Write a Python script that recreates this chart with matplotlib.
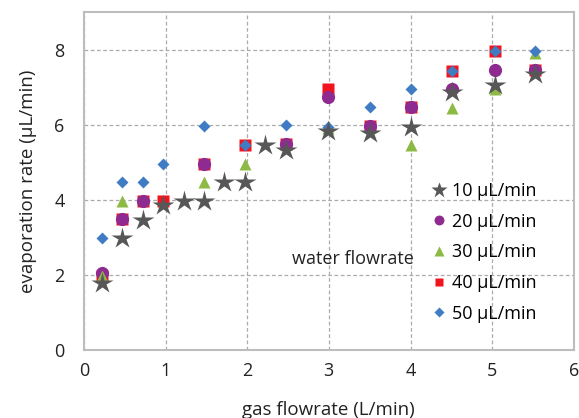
import matplotlib
matplotlib.use("Agg")
import matplotlib.pyplot as plt

plt.rcParams['font.family'] = ['Open Sans', 'DejaVu Sans']

# water flowrate 10 uL/min
x10 = [0.22, 0.47, 0.72, 0.97, 1.22, 1.47, 1.72, 1.97, 2.22, 2.47, 2.99, 3.5, 4.0, 4.51, 5.03, 5.53]
y10 = [1.78, 2.97, 3.46, 3.87, 3.97, 3.98, 4.47, 4.47, 5.45, 5.33, 5.84, 5.78, 5.94, 6.88, 7.06, 7.35]
# 20 uL/min
x20 = [0.22, 0.47, 0.72, 1.47, 2.47, 2.99, 3.5, 4.0, 4.51, 5.03, 5.53]
y20 = [2.06, 3.48, 3.97, 4.96, 5.48, 6.75, 5.97, 6.46, 6.95, 7.46, 7.46]
# 30 uL/min
x30 = [0.22, 0.47, 1.47, 1.97, 2.99, 4.0, 4.51, 5.03, 5.53]
y30 = [1.96, 3.97, 4.46, 4.95, 5.92, 5.46, 6.44, 6.95, 7.92]
# 40 uL/min
x40 = [0.22, 0.47, 0.72, 0.97, 1.47, 1.97, 2.47, 2.99, 3.5, 4.0, 4.51, 5.03, 5.53]
y40 = [1.98, 3.48, 3.97, 3.97, 4.96, 5.46, 5.48, 6.95, 5.97, 6.46, 7.44, 7.96, 7.46]
# 50 uL/min
x50 = [0.22, 0.47, 0.72, 0.97, 1.47, 1.97, 2.47, 2.99, 3.5, 4.0, 4.51, 5.03, 5.53]
y50 = [2.98, 4.47, 4.47, 4.96, 5.96, 5.46, 6.0, 5.95, 6.46, 6.95, 7.44, 7.96, 7.96]

labels = ['10 \u00b5L/min', '20 \u00b5L/min', '30 \u00b5L/min', '40 \u00b5L/min', '50 \u00b5L/min']

fig = plt.figure(figsize=(5.79, 4.18), dpi=100)
ax = fig.add_axes([0.145, 0.163, 0.846, 0.808])

h40, = ax.plot(x40, y40, 's', color='#F0141E', ms=8, mec='none', zorder=2)
h20, = ax.plot(x20, y20, 'o', color='#8E2A90', ms=9.5, mec='none', zorder=3)
h30, = ax.plot(x30, y30, '^', color='#8DBA45', ms=9, mec='none', zorder=4)
h50, = ax.plot(x50, y50, 'D', color='#3F7CC4', ms=6.5, mec='none', zorder=5)
h10, = ax.plot(x10, y10, '*', color='#575757', ms=16, mec='none', zorder=6)

ax.set_xlim(0, 6)
ax.set_ylim(0, 9)
ax.set_xticks(range(0, 7))
ax.set_yticks([0, 2, 4, 6, 8])
ax.tick_params(length=0, labelsize=13, colors='#222222')
ax.tick_params(axis='x', pad=9)
ax.tick_params(axis='y', pad=14)
ax.grid(True, color='#ABABAB', linestyle=(0, (3, 2)), linewidth=0.9)
ax.set_axisbelow(True)
for s in ax.spines.values():
    s.set_color('#BDBDBD')
    s.set_linewidth(1.5)

ax.set_xlabel('gas flowrate (L/min)', fontsize=13.5, color='#222222', labelpad=15)
ax.set_ylabel('evaporation rate (\u00b5L/min)', fontsize=13.5, color='#222222', labelpad=12)

leg = ax.legend([h10, h20, h30, h40, h50], labels, loc='upper left',
                bbox_to_anchor=(0.67, 0.545), frameon=False, fontsize=13,
                handletextpad=0.1, labelspacing=0.7, handlelength=1.2,
                markerscale=0.75)
ax.text(0.425, 0.255, 'water flowrate', transform=ax.transAxes, fontsize=13, color='#222222')

fig.savefig('out.png', dpi=100)
